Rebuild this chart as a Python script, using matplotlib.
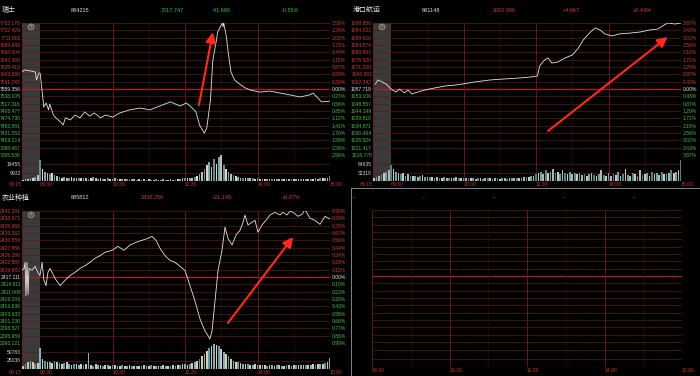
import matplotlib
matplotlib.use("Agg")
import matplotlib.pyplot as plt
import numpy as np

plt.rcParams['font.family'] = ['Liberation Sans', 'Noto Sans CJK SC', 'DejaVu Sans']
CJK = ['Noto Sans CJK SC', 'DejaVu Sans']

W, H = 700, 376
RED, GREEN, WHITE = '#d03a36', '#3cbf3c', '#e6e6e6'
GRID, GRID_DIM, MID = '#601616', '#351010', '#b81e1e'

# ---- data: minutes since 09:15 (lunch removed, 09:30=15, 11:30/13:00=135, 15:00=255), change in %
tl_t = [0, 2, 7, 11, 12, 14, 15, 17, 18, 20, 22, 23, 26, 28, 32, 34, 36, 40, 44, 48, 52, 56,
        60, 65, 69, 75, 81, 89, 98, 106, 114, 123, 131, 136, 141, 144, 147, 151, 153, 156,
        158, 161, 162, 165, 166, 166.5, 167, 169, 171, 173, 176, 181, 185, 189, 197, 205,
        214, 222, 230, 238, 241, 245, 248, 255]
tl_pct = [0.66, 0.74, 0.70, 0.66, 0.35, 0.62, 0.62, -0.23, -0.70, -0.54, -0.81, -0.58, -1.01,
          -1.12, -1.28, -1.40, -1.12, -1.20, -1.01, -1.12, -0.89, -1.05, -0.93, -1.12, -1.01,
          -1.09, -0.93, -0.81, -0.74, -0.81, -0.66, -0.50, -0.66, -0.54, -0.74, -0.89, -1.40,
          -1.71, -1.51, -0.43, 1.12, 1.90, 2.21, 2.48, 2.56, 2.41, 2.56, 2.09, 1.32, 0.66,
          0.35, 0.16, 0.04, -0.04, -0.12, -0.08, -0.16, -0.23, -0.31, -0.23, -0.16, -0.35,
          -0.50, -0.47]

tr_t = [2, 4, 7.5, 11, 14, 16, 19, 22, 26, 29, 32, 37, 43, 51, 60, 68, 74, 84, 97, 109, 122,
        130, 136, 138, 142, 145, 148, 153, 159, 165, 170, 174, 180, 184, 188, 192, 198, 204,
        213, 221, 229, 236, 241, 244, 250, 255]
tr_pct = [0.29, 0.53, 0.41, 0.29, 0.06, -0.06, -0.18, 0.00, -0.23, -0.06, -0.29, -0.18, -0.06,
          0.06, 0.18, 0.23, 0.29, 0.41, 0.53, 0.59, 0.65, 0.70, 0.76, 1.35, 1.70, 1.82, 1.52,
          1.58, 1.82, 1.99, 2.40, 2.87, 3.34, 3.58, 3.46, 3.23, 3.11, 3.23, 3.28, 3.34, 3.46,
          3.52, 3.75, 3.87, 3.81, 3.87]

bl_t = [0, 1.7, 2.5, 3.3, 4.1, 5, 5.8, 8.3, 10.8, 13.2, 14.9, 16.6, 18.2, 19.9, 21.5, 23.2,
        27.3, 31.5, 35.6, 39.7, 43.9, 48, 52.2, 56.3, 60.4, 64.6, 68.7, 74.5, 79.5, 84.4,
        89.4, 94.4, 99.3, 104.3, 107.6, 110.9, 114.3, 118.4, 122.5, 126.7, 130.8, 134.9,
        139.1, 143.2, 147.4, 151.5, 154, 155.6, 157.3, 159.8, 162.3, 165.6, 168.1, 170.5,
        173.9, 177.2, 180.5, 183, 184.6, 187.1, 190.4, 192.9, 195.4, 198.7, 202, 205.3,
        209.5, 213.6, 216.1, 219.4, 221.9, 225.2, 228.5, 231.8, 234.3, 238.4, 242.6, 246.7,
        250.9, 255]
bl_pct = [0.10, 0.13, 0.22, -0.28, 0.22, -0.26, 0.13, 0.10, 0.16, 0.07, 0.02, 0.22, -0.05,
          -0.13, 0.07, 0.13, -0.02, -0.13, -0.05, 0.02, 0.07, 0.13, 0.17, 0.22, 0.28, 0.32,
          0.37, 0.40, 0.46, 0.40, 0.48, 0.52, 0.55, 0.58, 0.61, 0.55, 0.43, 0.32, 0.25, 0.22,
          0.16, 0.10, -0.13, -0.36, -0.63, -0.81, -0.88, -0.93, -0.81, -0.36, 0.10, 0.40,
          0.75, 0.58, 0.48, 0.63, 0.70, 0.82, 0.93, 0.78, 0.82, 0.85, 0.67, 0.78, 0.85, 0.93,
          0.97, 0.93, 0.97, 0.93, 0.99, 0.96, 0.91, 0.94, 1.01, 0.88, 0.85, 0.79, 0.91, 0.87]

# volume, one bar per 2 minutes (thousands)
vol_t = np.arange(0, 256, 2)
tl_vol = [1.5, 2, 2.5, 3, 4, 5, 7, 24,  14, 10, 9, 8, 9, 7, 6, 5,
          4, 5, 4, 3.5, 5, 4, 3, 4,  3, 4, 3, 2.5, 3, 5, 3, 2.5,
          3, 2.5, 2, 3, 2.5, 2, 3, 2,  2, 2.5, 2, 2, 1.5, 2, 2, 1.5,
          2, 1.5, 2, 1.5, 2, 1.5, 1.5, 2,  1.5, 1.5, 2, 1.5, 1.5, 2, 1.5, 1.5,
          2, 2, 3, 4,  3, 4, 4, 5, 6, 8, 10, 14,  18, 22, 16, 25, 20, 28, 30, 18,
          14, 10, 8, 7, 6, 5, 4, 4,  3.5, 3, 3, 3, 2.5, 3, 2.5, 2.5,
          2.5, 2, 2.5, 2, 2, 2.5, 2, 2,  2, 2, 2.5, 2, 2, 2, 2.5, 2,
          2, 2.5, 2, 2, 2.5, 3, 2.5, 3,  3, 3.5, 4, 6]
tr_vol = [10, 15, 20, 25, 30, 35, 40, 60,  45, 35, 30, 25, 30, 20, 25, 20,
          18, 20, 15, 18, 22, 15, 14, 16,  14, 12, 15, 13, 12, 16, 12, 11,
          12, 10, 14, 11, 10, 12, 10, 11,  10, 12, 9, 11, 10, 9, 12, 10,
          11, 9, 10, 12, 9, 10, 11, 9,  10, 12, 11, 10, 13, 12, 14, 15,
          16, 18, 20, 25,  30, 35, 25, 40, 30, 35, 45, 30,  35, 28, 40, 30, 25, 35, 28, 30,
          25, 30, 22, 28, 20, 25, 30, 22,  20, 25, 40, 22, 18, 30, 20, 25,
          22, 35, 20, 25, 45, 22, 20, 30,  25, 20, 40, 22, 25, 30, 20, 35,
          25, 30, 22, 35, 28, 25, 30, 40,  30, 35, 40, 80]
bl_vol = [10, 15, 20, 25, 20, 15, 18, 63,  30, 25, 20, 22, 18, 25, 20, 18,
          15, 18, 20, 15, 12, 16, 14, 12,  14, 12, 15, 48, 12, 10, 14, 12,
          12, 10, 13, 11, 10, 12, 11, 10,  10, 12, 9, 10, 11, 9, 10, 10,
          9, 10, 11, 9, 10, 12, 9, 10,  10, 9, 11, 10, 9, 10, 12, 10,
          11, 12, 14, 15,  12, 15, 18, 20, 25, 30, 38, 45,  55, 62, 70, 75, 72, 68, 60, 52,
          45, 38, 30, 25, 22, 20, 18, 16,  15, 14, 13, 12, 14, 12, 11, 12,
          11, 10, 12, 11, 10, 12, 11, 10,  10, 11, 12, 10, 11, 12, 11, 12,
          12, 11, 13, 12, 14, 13, 15, 16,  16, 18, 20, 33]

tl_left = ['7753.170', '7732.429', '7711.082', '7689.843', '7668.604', '7647.365', '7625.419',
           '7603.580', '7581.745', '7559.356', '7538.105', '7517.316', '7495.477', '7474.730',
           '7452.891', '7431.053', '7409.214', '7388.467', '7365.536']
tl_right = ['2.56%', '2.29%', '2.02%', '1.73%', '1.44%', '1.15%', '0.87%', '0.58%', '0.30%',
            '0.00%', '0.27%', '0.56%', '0.85%', '1.12%', '1.41%', '1.70%', '1.99%', '2.28%', '2.56%']
tr_left = ['1098.650', '1094.021', '1089.616', '1084.874', '1080.567', '1075.920', '1071.260',
           '1066.881', '1062.342', '1057.719', '1053.106', '1048.557', '1044.149', '1039.510',
           '1034.871', '1030.464', '1025.824', '1021.417', '1016.778']
tr_right = ['3.87%', '3.43%', '3.02%', '2.58%', '2.16%', '1.72%', '1.29%', '0.87%', '0.43%',
            '0.00%', '0.43%', '0.87%', '1.29%', '1.72%', '2.15%', '2.58%', '3.02%', '3.43%', '3.87%']
bl_left = ['2441.161', '2438.573', '2435.965', '2433.262', '2430.559', '2427.856', '2425.288',
           '2422.585', '2419.882', '2417.111', '2414.611', '2411.908', '2409.206', '2406.536',
           '2403.933', '2401.230', '2398.527', '2395.959', '2393.121']
bl_right = ['0.99%', '0.89%', '0.78%', '0.67%', '0.56%', '0.44%', '0.34%', '0.23%', '0.11%',
            '0.00%', '0.10%', '0.22%', '0.33%', '0.43%', '0.55%', '0.66%', '0.77%', '0.88%', '0.99%']

time_ticks = [0, 15, 75, 135, 195, 255]
time_labels = ['09:15', '09:30', '10:30', '11:30', '14:00', '15:00']

FS = 3.6  # small numbers on the axes


def rect(x0, y0, x1, y1):
    return [x0 / W, 1 - y1 / H, (x1 - x0) / W, (y1 - y0) / H]


def label_color(i):
    return RED if i < 9 else (WHITE if i == 9 else GREEN)


fig = plt.figure(figsize=(7, 3.76), dpi=100, facecolor='black')


def grid(ax, m, t0, vol_lines=None):
    ax.set_facecolor('black')
    for s in ax.spines.values():
        s.set_visible(False)
    if m is not None:
        for i, lv in enumerate(np.linspace(m, -m, 19)):
            if i == 9:
                ax.axhline(lv, color=MID, lw=0.9, zorder=1)
            else:
                ax.axhline(lv, color=GRID, lw=0.5, zorder=1)
    if vol_lines is not None:
        for lv in vol_lines:
            ax.axhline(lv, color=GRID, lw=0.5, zorder=1)
    for tt in [45, 105, 165, 225]:
        ax.axvline(tt, color=GRID_DIM, lw=0.4, zorder=1)
    for tt in [t0, 75, 135, 195, 255]:
        ax.axvline(tt, color='#701818', lw=0.6, zorder=1)


def panel(ox, oy, t, pct, m, left, right, vol, vmark, vcolors, header, hx, arrow):
    ax = fig.add_axes(rect(ox + 22, oy + 23, ox + 330, oy + 155))
    ax.set_xlim(0, 255)
    ax.set_ylim(-m, m)
    grid(ax, m, 0)
    ax.axvspan(0, 15, color='#3a3a3a', lw=0, zorder=0.5)
    levels = np.linspace(m, -m, 19)
    ax.set_xticks([])
    ax.set_yticks(levels)
    ax.set_yticklabels(left)
    ax.tick_params(axis='y', length=0, pad=0.8, labelsize=FS)
    for i, lb in enumerate(ax.get_yticklabels()):
        lb.set_color(label_color(i))
    ax2 = ax.twinx()
    ax2.set_ylim(-m, m)
    ax2.set_yticks(levels)
    ax2.set_yticklabels(right)
    ax2.tick_params(axis='y', length=0, pad=1.0, labelsize=FS)
    for s in ax2.spines.values():
        s.set_visible(False)
    for i, lb in enumerate(ax2.get_yticklabels()):
        lb.set_color(label_color(i))
    ax.plot(t, pct, color='#e4e4e4', lw=0.6, zorder=3)
    ax.annotate('', xy=arrow[1], xytext=arrow[0],
                arrowprops=dict(arrowstyle='-|>,head_length=0.6,head_width=0.3',
                                color='#ff2a1a', lw=1.5, shrinkA=0, shrinkB=0),
                zorder=5)
    ax.text(7.5, m * 0.94, '?', ha='center', va='center', fontsize=2.8, color='#dddddd',
            bbox=dict(boxstyle='circle,pad=0.25', fc='#555555', ec='#bbbbbb', lw=0.4))

    av = fig.add_axes(rect(ox + 22, oy + 155, ox + 330, oy + 181))
    av.set_xlim(0, 255)
    av.set_ylim(0, vmark[0] * 26 / 17)
    grid(av, None, 0, vol_lines=[vmark[0], vmark[0] / 2])
    av.axvspan(0, 15, color='#3a3a3a', lw=0, zorder=0.5)
    av.bar(vol_t + 1, np.array(vol) * 1000, width=1.4, color=vcolors, lw=0, zorder=3)
    av.set_yticks([vmark[0], vmark[0] / 2])
    av.set_yticklabels(vmark[1])
    av.tick_params(axis='y', length=0, pad=0.8, labelsize=FS, labelcolor='#d0d0d0')
    av.set_xticks(time_ticks)
    av.set_xticklabels(time_labels)
    av.tick_params(axis='x', length=0, pad=0.5, labelsize=3.7, labelcolor='#c8322e')
    for i, lb in enumerate(av.get_xticklabels()):
        lb.set_ha('right' if i == 0 else 'left')

    hy = 1 - (oy + 10) / H
    fig.text((ox + 2) / W, hy, header[0], family=CJK, fontsize=5.0, color='#e8e8e8', va='center')
    fig.text((ox + 71) / W, hy, header[1], fontsize=4.0, color='#d8d8d8', va='center')
    hc = GREEN if header[3].startswith('-') else RED
    for x, s in zip(hx, header[2:]):
        fig.text((ox + x) / W, hy, s, fontsize=4.0, color=hc, va='center')


tl_cols = ['#d4d4d4', '#7fa6a6', '#bcbcbc', '#5f8f8f']
tr_cols = ['#c8c8c8', '#6fa0a0', '#a8b8b8', '#4f8585']
bl_cols = ['#d8d0a0', '#5a9a9a', '#c8c8c8', '#7fb0c0']

panel(0, 0, tl_t, tl_pct, 2.56, tl_left, tl_right, tl_vol, (19455, ['19455', '9932']),
      tl_cols, ['瑞士', '884215', '7517.747', '-41.609', '-0.55%'], [161, 212, 282],
      ((146.5, -0.62), (158, 2.2)))
panel(351, 0, tr_t, tr_pct, 3.87, tr_left, tr_right, tr_vol, (64635, ['64635', '32318']),
      tr_cols, ['港口航运', '881148', '1062.386', '+4.667', '+0.44%'], [142, 212, 282],
      ((145, -2.46), (244, 3.05)))
panel(0, 188, bl_t, bl_pct, 0.99, bl_left, bl_right, bl_vol, (50783, ['50783', '25036']),
      bl_cols, ['农业种植', '885812', '2438.256', '+21.145', '+0.87%'], [141, 212, 282],
      ((170.5, -0.69), (224.5, 0.60)))

# empty bottom-right panel
frame = fig.add_axes(rect(351, 188, 700, 376))
frame.set_facecolor('black')
frame.set_xticks([])
frame.set_yticks([])
for k, s in frame.spines.items():
    s.set_visible(k in ('left', 'top'))
    s.set_color('#9a9a9a')
    s.set_linewidth(0.6)
for x in [353, 423, 493, 563, 633]:
    fig.text(x / W, 1 - 198 / H, '-', fontsize=3.8, color='#bbbbbb', va='center')

ep = fig.add_axes(rect(372, 210, 682, 342))
ep.set_xlim(15, 255)
ep.set_ylim(-1, 1)
grid(ep, 1, 15)
ep.set_xticks([])
ep.set_yticks([])
ev = fig.add_axes(rect(372, 342, 682, 367))
ev.set_xlim(15, 255)
ev.set_ylim(0, 3)
grid(ev, None, 15, vol_lines=[1, 2, 3])
ev.set_yticks([])
ev.set_xticks(time_ticks[1:])
ev.set_xticklabels(time_labels[1:])
ev.tick_params(axis='x', length=0, pad=0.8, labelsize=3.7, labelcolor='#c8322e')
for lb in ev.get_xticklabels():
    lb.set_ha('left')

fig.savefig('out.png', dpi=100, facecolor='black')
